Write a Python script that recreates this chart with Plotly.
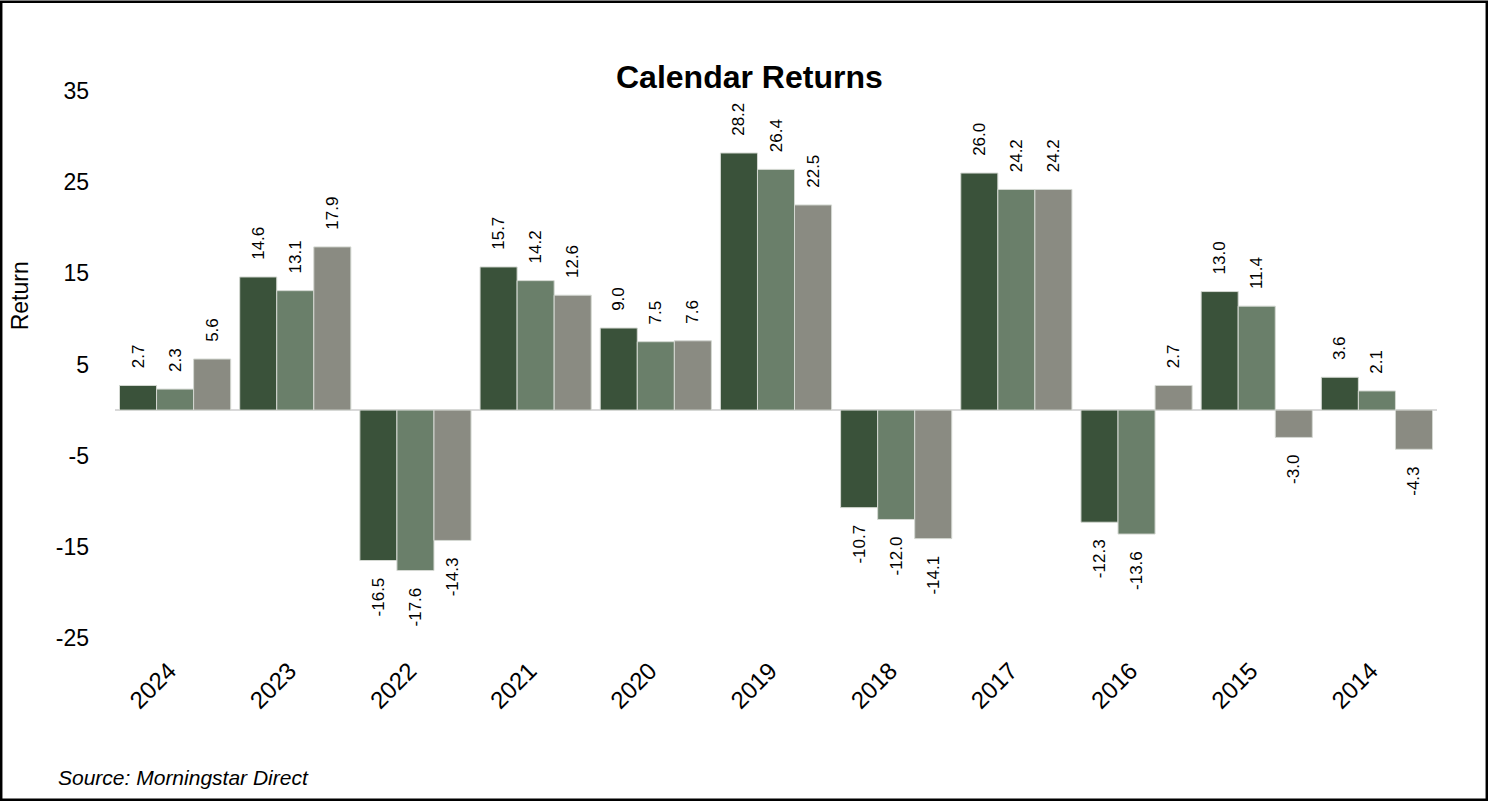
import plotly.graph_objects as go

years = ["2024", "2023", "2022", "2021", "2020", "2019", "2018", "2017", "2016", "2015", "2014"]
fund = [2.7, 14.6, -16.5, 15.7, 9.0, 28.2, -10.7, 26.0, -12.3, 13.0, 3.6]
category = [2.3, 13.1, -17.6, 14.2, 7.5, 26.4, -12.0, 24.2, -13.6, 11.4, 2.1]
index = [5.6, 17.9, -14.3, 12.6, 7.6, 22.5, -14.1, 24.2, 2.7, -3.0, -4.3]
y_ticks = [35, 25, 15, 5, -5, -15, -25]

series = [("Fund", fund, "#3A523A"), ("Category", category, "#6A7F6A"), ("Index", index, "#8A8B82")]

W, H = 1488, 801
L, R_EDGE = 115, 1437
TOP, BOT = 90.5, 638

FONT = "Arial, Liberation Sans, sans-serif"
PAD = "\u00a0\u00a0\u00a0"


def lbl(v):
    s = f"{v:.1f}"
    return PAD + s if v >= 0 else s + PAD


fig = go.Figure()
for name, vals, col in series:
    fig.add_trace(go.Bar(
        x=years, y=vals, name=name,
        marker=dict(color=col, line=dict(color="#d4d8d2", width=1)),
        text=[lbl(v) for v in vals],
        textposition="outside",
        textangle=-90,
        constraintext="none",
        cliponaxis=False,
        textfont=dict(family=FONT, size=17, color="#000000"),
        showlegend=False,
        hoverinfo="x+y+name",
    ))

def px_x(px):
    return (px - L) / (R_EDGE - L)

def px_y(py):
    return (BOT - py) / (BOT - TOP)

fig.update_layout(
    width=W, height=H,
    barmode="group", bargap=0.075, bargroupgap=0,
    paper_bgcolor="white", plot_bgcolor="white",
    margin=dict(l=L, r=W - R_EDGE, t=TOP, b=H - BOT, autoexpand=False),
    font=dict(family=FONT, color="#000000"),
    xaxis=dict(
        type="category", showgrid=False, showline=False, zeroline=False,
        tickangle=-45, tickfont=dict(size=24, family=FONT, color="#000000"),
        ticks="", ticklabelstandoff=13, ticklabelshift=-6,
    ),
    yaxis=dict(
        range=[-25, 35], tickvals=y_ticks, ticktext=[str(v) for v in y_ticks],
        showgrid=False, showline=False,
        zeroline=True, zerolinecolor="#d9d9d9", zerolinewidth=2,
        tickfont=dict(size=23, family=FONT, color="#000000"),
        ticks="", ticklabelstandoff=25,
    ),
    annotations=[
        dict(text="<b>Calendar Returns</b>", xref="paper", yref="paper",
             x=px_x(749), y=px_y(76), xanchor="center", yanchor="middle",
             showarrow=False, font=dict(size=32, family=FONT, color="#000000")),
        dict(text="Return", xref="paper", yref="paper",
             x=px_x(20), y=px_y(296), xanchor="center", yanchor="middle",
             textangle=-90, showarrow=False,
             font=dict(size=23, family=FONT, color="#000000")),
        dict(text="<i>Source: Morningstar Direct</i>", xref="paper", yref="paper",
             x=px_x(56), y=px_y(778), xanchor="left", yanchor="middle",
             showarrow=False, font=dict(size=21, family=FONT, color="#000000")),
    ],
    shapes=[
        dict(type="rect", xref="paper", yref="paper",
             x0=px_x(1.2), x1=px_x(1486.8), y0=px_y(1.2), y1=px_y(799.8),
             line=dict(color="#000000", width=2.5), fillcolor="rgba(0,0,0,0)",
             layer="above"),
    ],
)

fig.write_html(
    "out.html",
    config={"displayModeBar": False},
    post_script="document.body.style.margin='0px';document.body.style.overflow='hidden';",
)
